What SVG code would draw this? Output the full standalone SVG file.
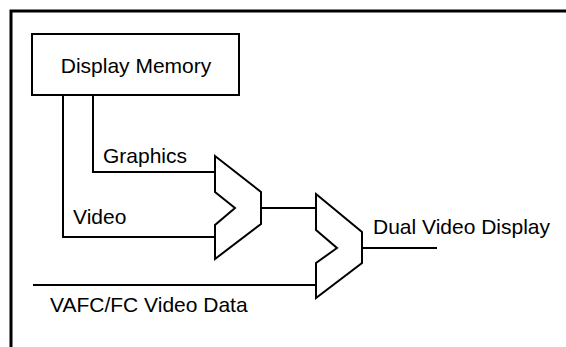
<svg xmlns="http://www.w3.org/2000/svg" width="566" height="347" viewBox="0 0 566 347">
<style>
.ln{fill:none;stroke:#000;stroke-width:2;stroke-linejoin:miter}
.box{fill:#fff;stroke:#000;stroke-width:2}
.t{font-family:"Liberation Sans",Arial,Helvetica,sans-serif;font-size:21px;fill:#000}
</style>
<rect width="566" height="347" fill="#fff"/>
<g id="frame">
<path d="M11,347 V11 H566" fill="none" stroke="#000" stroke-width="3"/>
</g>
<g id="connectors">
<path class="ln" d="M63,95 V237 H215"/>
<path class="ln" d="M93,95 V172 H215"/>
<path class="ln" d="M261,208 H316"/>
<path class="ln" d="M33,285 H316"/>
<path class="ln" d="M362,248 H437"/>
</g>
<g id="display-memory">
<rect class="box" x="32" y="34" width="207" height="61"/>
<text class="t" x="136" y="73" text-anchor="middle">Display Memory</text>
</g>
<g id="mux1">
<polygon class="box" points="215,156 261,192 261,224 215,259 215,225 235,208 215,192"/>
</g>
<g id="mux2">
<polygon class="box" points="316,194 362,232 362,263 316,298 316,263 337,248 316,230"/>
</g>
<g id="labels">
<text class="t" x="103" y="163">Graphics</text>
<text class="t" x="73" y="224">Video</text>
<text class="t" x="50" y="312">VAFC/FC Video Data</text>
<text class="t" x="373" y="234">Dual Video Display</text>
</g>
</svg>
